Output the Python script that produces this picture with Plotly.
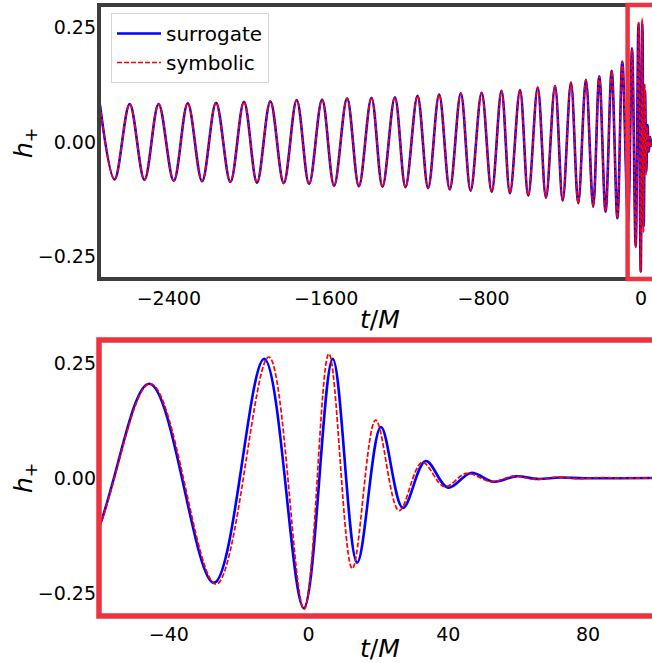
import plotly.graph_objects as go

# ---- data (extrema of the waveform) ----
# shared inspiral part (surrogate and symbolic coincide here)
t_inspiral = [-2750, -2676, -2599, -2524, -2452, -2375, -2304, -2231, -2160, -2087,
              -2018, -1952, -1884, -1816, -1750, -1687, -1621, -1560, -1494, -1434,
              -1370, -1314, -1251, -1197, -1136, -1082, -1026, -972, -916, -866,
              -810, -759, -709, -666, -615, -573, -525, -483, -437, -398,
              -356, -319, -280, -243, -212, -180, -149, -120, -95, -66]
h_inspiral = [0.081, -0.082, 0.083, -0.083, 0.083, -0.085, 0.085, -0.086, 0.086, -0.0875,
              0.088, -0.089, 0.089, -0.090, 0.092, -0.092, 0.093, -0.096, 0.0955, -0.097,
              0.097, -0.098, 0.098, -0.099, 0.101, -0.101, 0.104, -0.1035, 0.1065, -0.1065,
              0.108, -0.109, 0.112, -0.112, 0.114, -0.1175, 0.119, -0.122, 0.1225, -0.128,
              0.130, -0.134, 0.136, -0.1415, 0.144, -0.1525, 0.156, -0.167, 0.176, -0.175]

# merger / ringdown
t_merger_surrogate = [-45.6, -27.1, -12.7, -1.4, 6.9, 13.9, 20.7, 27.0, 33.5, 39.9,
                      46.5, 53.0, 59.4, 65.5, 72.0, 79.0, 100.0]
h_merger_surrogate = [0.205, -0.228, 0.259, -0.283, 0.259, -0.184, 0.111, -0.065, 0.037, -0.021,
                      0.011, -0.008, 0.0036, -0.002, 0.001, -0.0005, 0.0]

t_merger_symbolic = [-45.3, -26.5, -11.4, -1.3, 5.8, 12.5, 19.2, 25.9, 32.5, 38.9,
                     45.2, 52.3, 58.7, 65.0, 71.0, 77.0, 83.0, 90.0, 100.0]
h_merger_symbolic = [0.205, -0.231, 0.263, -0.285, 0.270, -0.197, 0.126, -0.071, 0.034, -0.019,
                     0.010, -0.008, 0.004, -0.003, 0.002, -0.0015, 0.001, 0.0, 0.0]

x_ticks_top = [-2400, -1600, -800, 0]
x_ticks_bottom = [-40, 0, 40, 80]
y_ticks = [-0.25, 0.0, 0.25]

series_names = ["surrogate", "symbolic"]

# ---- layout constants ----
W, H = 652, 663
top_range = [-2755, 56]
bottom_range = [-60, 98.3]
highlight_start = -68
x_dom = [99 / W, 1.0]
top_dom = [1 - 279 / H, 1 - 5 / H]
bot_dom = [1 - 616 / H, 1 - 340 / H]

RED = "#ee3340"
DARK = "#3d3d3d"
FONT = "DejaVu Sans"

t_surr = t_inspiral + t_merger_surrogate
h_surr = h_inspiral + h_merger_surrogate
t_sym = t_inspiral + t_merger_symbolic
h_sym = h_inspiral + h_merger_symbolic

fig = go.Figure()
for xa, ya, show in (("x", "y", True), ("x2", "y2", False)):
    fig.add_trace(go.Scatter(
        x=t_surr, y=h_surr, mode="lines", name=series_names[0], showlegend=show,
        xaxis=xa, yaxis=ya,
        line=dict(color="#0000ff", width=2.6, shape="spline", simplify=False)))
    fig.add_trace(go.Scatter(
        x=t_sym, y=h_sym, mode="lines", name=series_names[1], showlegend=show,
        xaxis=xa, yaxis=ya,
        line=dict(color="#ff0000", width=1.7, dash="5px,2px", shape="spline", simplify=False)))

axis_common = dict(showgrid=False, zeroline=False, showline=False, ticks="",
                   tickfont=dict(family=FONT, size=19, color="black"))

fig.update_layout(
    width=W, height=H,
    margin=dict(l=0, r=0, t=0, b=0),
    paper_bgcolor="white", plot_bgcolor="white",
    font=dict(family=FONT, size=19, color="black"),
    xaxis=dict(domain=x_dom, range=top_range, tickvals=x_ticks_top, anchor="y",
               ticklabelstandoff=6, **axis_common),
    yaxis=dict(domain=top_dom, range=[-0.3, 0.3], tickvals=y_ticks, tickformat=".2f",
               anchor="x", ticklabelstandoff=2, **axis_common),
    xaxis2=dict(domain=x_dom, range=bottom_range, tickvals=x_ticks_bottom, anchor="y2",
                ticklabelstandoff=5, **axis_common),
    yaxis2=dict(domain=bot_dom, range=[-0.3, 0.3], tickvals=y_ticks, tickformat=".2f",
                anchor="x2", ticklabelstandoff=2, **axis_common),
    legend=dict(x=111 / W, y=1 - 13 / H, xanchor="left", yanchor="top",
                bgcolor="rgba(255,255,255,0.85)", bordercolor="#d5d5d5", borderwidth=1,
                font=dict(family=FONT, size=20, color="black"), tracegroupgap=0,
                itemwidth=44),
    showlegend=True,
)

# frames
hx = x_dom[0] + (highlight_start - top_range[0]) / (top_range[1] - top_range[0]) * (x_dom[1] - x_dom[0])
fig.add_shape(type="rect", xref="x domain", yref="y domain", x0=0, x1=1.2, y0=0, y1=1,
              line=dict(color=DARK, width=4), layer="above")
fig.add_shape(type="rect", xref="paper", yref="y domain", x0=hx, x1=1.2, y0=0, y1=1,
              line=dict(color=RED, width=4.5), layer="above")
fig.add_shape(type="rect", xref="x2 domain", yref="y2 domain", x0=0, x1=1.2, y0=0, y1=1,
              line=dict(color=RED, width=5.5), layer="above")

# axis titles
def title(text, x, y, angle=0):
    fig.add_annotation(text=text, x=x / W, y=1 - y / H, xref="paper", yref="paper",
                       showarrow=False, textangle=angle, xanchor="center", yanchor="middle",
                       font=dict(family=FONT, size=25, color="black"))

title("<i>h</i><sub>+</sub>", 25, 143, -90)
title("<i>t</i>/<i>M</i>", 380, 319)
title("<i>h</i><sub>+</sub>", 25, 478, -90)
title("<i>t</i>/<i>M</i>", 380, 648)

fig.write_html(
    "out.html",
    config={"displayModeBar": False},
    post_script="document.body.style.margin='0';document.body.style.overflow='hidden';",
)
